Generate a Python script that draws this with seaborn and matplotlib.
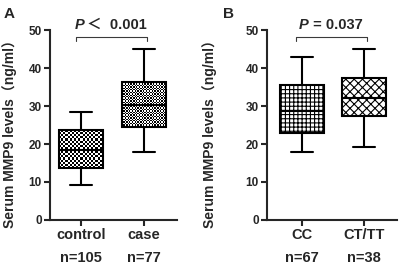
import numpy as np
import pandas as pd
import matplotlib
matplotlib.use('Agg')
import matplotlib.pyplot as plt
import seaborn as sns

# five-number summaries: min, q1, median, q3, max
groups_a = ['control', 'case']
n_a = [105, 77]
control = [9.2, 13.8, 18.3, 23.6, 28.5]
case = [17.8, 24.5, 30.3, 36.3, 45.0]

groups_b = ['CC', 'CT/TT']
n_b = [67, 38]
cc = [17.8, 23.0, 28.8, 35.5, 43.0]
ct_tt = [19.3, 27.3, 32.2, 37.5, 45.0]

p_text_a = '＜  0.001'
p_text_b = ' = 0.037'
ylab = 'Serum MMP9 levels（ng/ml）'

sns.set_style('ticks')
plt.rcParams['font.family'] = ['Liberation Sans', 'Noto Sans CJK SC']
plt.rcParams['font.weight'] = 'bold'
plt.rcParams['axes.linewidth'] = 1.5
plt.rcParams['hatch.linewidth'] = 0.8

df_a = pd.DataFrame({'group': np.repeat(groups_a, 5), 'value': control + case})
df_b = pd.DataFrame({'group': np.repeat(groups_b, 5), 'value': cc + ct_tt})

fig = plt.figure(figsize=(4, 2.66), dpi=100)
ax_a = fig.add_axes([0.125, 0.173, 0.3175, 0.714])
ax_b = fig.add_axes([0.6675, 0.173, 0.325, 0.714])


def panel(ax, df, order, counts, xlim, ylab_x):
    sns.boxplot(data=df, x='group', y='value', order=order, ax=ax,
                width=0.7, whis=(0, 100), color='white', linecolor='black',
                linewidth=1.5, saturation=1)
    ax.set_xlim(*xlim)
    ax.set_ylim(0, 50)
    ax.set_yticks(range(0, 51, 10))
    ax.set_xticks([0, 1])
    ax.set_xticklabels([f'{g}\nn={n}' for g, n in zip(order, counts)],
                       linespacing=1.75, fontsize=10.5, fontweight='bold')
    ax.tick_params(axis='y', labelsize=8.5, length=4, width=1.5, pad=2)
    ax.tick_params(axis='x', length=4, width=1.5, pad=2)
    ax.set_xlabel('')
    ax.set_ylabel(ylab, fontsize=10, fontweight='bold')
    ax.yaxis.set_label_coords(ylab_x, 0.47)
    sns.despine(ax=ax)


def checker(ax, patch, cell_px):
    ext = patch.get_path().get_extents()
    p0 = ax.transData.transform((ext.x0, ext.y0))
    p1 = ax.transData.transform((ext.x1, ext.y1))
    nx = max(1, int(round((p1[0] - p0[0]) / cell_px)))
    ny = max(1, int(round((p1[1] - p0[1]) / cell_px)))
    arr = np.add.outer(np.arange(ny), np.arange(nx)) % 2
    im = ax.imshow(arr, cmap='gray', extent=(ext.x0, ext.x1, ext.y0, ext.y1),
                   aspect='auto', interpolation='nearest', origin='lower',
                   zorder=patch.get_zorder() - 0.1)
    im.set_clip_path(patch)
    patch.set_facecolor('none')


def pval(ax, x, rest, gap):
    ax.text(x, 50.3, 'P', style='italic', fontweight='bold', fontsize=10.5,
            va='baseline', ha='left', clip_on=False)
    ax.annotate(rest, xy=(x, 50.3), xytext=(gap, 0), textcoords='offset points',
                fontsize=10.5, fontweight='bold', va='baseline', ha='left',
                annotation_clip=False)


def bracket(ax, x0, x1):
    ax.plot([x0, x0, x1, x1], [47.0, 48.2, 48.2, 47.0], color='#3a3a3a',
            lw=0.8, clip_on=False)


panel(ax_a, df_a, groups_a, n_a, (-0.49, 1.52), -0.26)
panel(ax_b, df_b, groups_b, n_b, (-0.56, 1.53), -0.385)

box_a = [p for p in ax_a.patches]
checker(ax_a, box_a[0], 2.1)
checker(ax_a, box_a[1], 1.4)
ax_a.set_xlim(-0.49, 1.52)
ax_a.set_ylim(0, 50)

box_b = [p for p in ax_b.patches]
box_b[0].set_hatch('++++')
box_b[1].set_hatch('xxxx')

bracket(ax_a, -0.08, 1.04)
bracket(ax_b, -0.09, 1.04)
pval(ax_a, -0.095, p_text_a, 9.0)
pval(ax_b, -0.043, p_text_b, 7.3)

fig.text(0.008, 0.975, 'A', fontsize=11, fontweight='bold', va='top')
fig.text(0.557, 0.975, 'B', fontsize=11, fontweight='bold', va='top')

fig.savefig('out.png', dpi=100)
